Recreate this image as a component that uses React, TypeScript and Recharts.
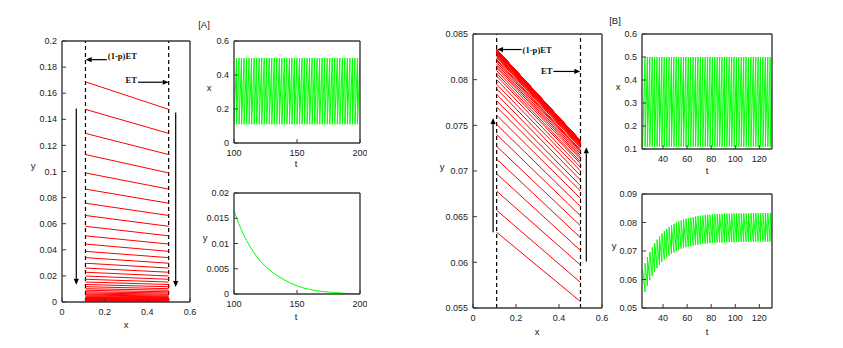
import React from "react";
import { LineChart, Line, XAxis, YAxis, ReferenceLine } from "recharts";

// cycle boundaries (time) and ramp bounds of x
const aCycleTimes = [
  100, 102, 104, 106, 108, 110, 112, 114, 116, 118, 120, 122, 124, 126, 128, 130, 132, 134, 136, 138,
  140, 142, 144, 146, 148, 150, 152, 154, 156, 158, 160, 162, 164, 166, 168, 170, 172, 174, 176, 178,
  180, 182, 184, 186, 188, 190, 192, 194, 196, 198, 200,
];
const bCycleTimes = [
  23, 25, 27, 29, 31, 33, 35, 37, 39, 41, 43, 45, 47, 49, 51, 53, 55, 57, 59, 61, 63, 65, 67, 69, 71,
  73, 75, 77, 79, 81, 83, 85, 87, 89, 91, 93, 95, 97, 99, 101, 103, 105, 107, 109, 111, 113, 115, 117,
  119, 121, 123, 125, 127, 129, 131,
];
const xRamp = [0.11, 0.5];

// [A] y level at each reset (segment i runs from level i to level i+1)
const aLevels = [
  0.1687, 0.1476, 0.1292, 0.113, 0.0989, 0.0865, 0.0757, 0.0663, 0.058, 0.0507, 0.0444, 0.0388,
  0.034, 0.0297, 0.026, 0.0228, 0.0199, 0.0174, 0.0153, 0.0134, 0.0117, 0.0102, 0.009, 0.0078,
  0.0069, 0.006, 0.0053, 0.0046, 0.004, 0.0035, 0.0031, 0.0027, 0.0024, 0.0021, 0.0018, 0.0016,
  0.0014, 0.0012, 0.0011, 0.0009, 0.0008, 0.0007, 0.0006, 0.0005, 0.0004, 0.0003, 0.0002, 0.0001, 0,
];
const aYTimes = [100, 105, 110, 115, 120, 130, 140, 150, 160, 170, 180, 190, 200];
const aYValues = [0.0165, 0.0132, 0.0106, 0.0085, 0.0068, 0.0044, 0.0028, 0.0016, 0.0009, 0.0005, 0.0003, 0.0001, 0];

// [B] y at start (x = 0.11) and end (x = 0.5) of each cycle
const bStart = [
  0.0633, 0.0657, 0.0678, 0.0697, 0.0713, 0.0727, 0.074, 0.0751, 0.0761, 0.077, 0.0777, 0.0784,
  0.079, 0.0795, 0.08, 0.0804, 0.0807, 0.081, 0.0813, 0.0815, 0.0817, 0.0819, 0.0821, 0.0822,
  0.0824, 0.0825, 0.0826, 0.0827, 0.0827, 0.0828, 0.0829, 0.0829, 0.083, 0.083, 0.0831, 0.0831,
  0.0831, 0.0831, 0.0832, 0.0832, 0.0832, 0.0832, 0.0832, 0.0832, 0.0833, 0.0833, 0.0833, 0.0833,
  0.0833, 0.0833, 0.0833, 0.0833, 0.0833, 0.0833,
];
const bEnd = [
  0.0557, 0.0578, 0.0597, 0.0613, 0.0627, 0.064, 0.0651, 0.0661, 0.067, 0.0678, 0.0684, 0.069,
  0.0695, 0.07, 0.0704, 0.0708, 0.071, 0.0713, 0.0715, 0.0717, 0.0719, 0.0721, 0.0722, 0.0723,
  0.0725, 0.0726, 0.0727, 0.0728, 0.0728, 0.0729, 0.073, 0.073, 0.073, 0.073, 0.0731, 0.0731,
  0.0731, 0.0731, 0.0732, 0.0732, 0.0732, 0.0732, 0.0732, 0.0732, 0.0733, 0.0733, 0.0733, 0.0733,
  0.0733, 0.0733, 0.0733, 0.0733, 0.0733, 0.0733,
];

// ticks
const phaseXTicks = [0, 0.2, 0.4, 0.6];
const aPhaseYTicks = [0, 0.02, 0.04, 0.06, 0.08, 0.1, 0.12, 0.14, 0.16, 0.18, 0.2];
const aTimeTicks = [100, 150, 200];
const aXTicks = [0, 0.2, 0.4, 0.6];
const aYTicks = [0, 0.005, 0.01, 0.015, 0.02];
const bPhaseYTicks = [0.055, 0.06, 0.065, 0.07, 0.075, 0.08, 0.085];
const bTimeTicks = [40, 60, 80, 100, 120];
const bXTicks = [0.1, 0.2, 0.3, 0.4, 0.5, 0.6];
const bYTicks = [0.05, 0.06, 0.07, 0.08, 0.09];

type Pt = { px: number; py: number | null };

function phaseTable(starts: number[], ends: number[]): Pt[] {
  const out: Pt[] = [];
  const n = Math.min(starts.length, ends.length);
  for (let i = 0; i < n; i++) {
    out.push({ px: xRamp[0], py: starts[i] }, { px: xRamp[1], py: ends[i] }, { px: xRamp[1], py: null });
  }
  return out;
}

function sawTable(times: number[]): Pt[] {
  const out: Pt[] = [];
  for (let k = 0; k < times.length - 1; k++) {
    out.push({ px: times[k], py: xRamp[0] }, { px: times[k + 1], py: xRamp[1] });
  }
  return out;
}

function cycleTable(times: number[], starts: number[], ends: number[]): Pt[] {
  const out: Pt[] = [];
  for (let k = 0; k < times.length - 1 && k < starts.length; k++) {
    out.push({ px: times[k], py: starts[k] }, { px: times[k + 1], py: ends[k] });
  }
  return out;
}

const aPhaseData = phaseTable(aLevels.slice(0, -1), aLevels.slice(1));
const bPhaseData = phaseTable(bStart, bEnd);
const aXData = sawTable(aCycleTimes);
const bXData = sawTable(bCycleTimes);
const aYData: Pt[] = aYTimes.map((t, i) => ({ px: t, py: aYValues[i] }));
const bYData = cycleTable(bCycleTimes, bStart, bEnd);

const YW = 40;
const XH = 22;
const PAD = 6;
const FRAME = "#3a3a3a";
const tickStyle = { fontSize: 9, fill: "#222", fontFamily: "Liberation Sans, Arial, sans-serif" };

type Rect = { l: number; t: number; r: number; b: number };

function Panel(props: {
  rect: Rect;
  data: Pt[];
  xDomain: number[];
  yDomain: number[];
  xTicks: number[];
  yTicks: number[];
  color: string;
  curve?: "linear" | "monotone";
  children?: React.ReactNode;
}) {
  const { rect, data, xDomain, yDomain, xTicks, yTicks, color, curve, children } = props;
  const w = rect.r - rect.l;
  const h = rect.b - rect.t;
  return (
    <div style={{ position: "absolute", left: rect.l - YW, top: rect.t - PAD - 1 }}>
      <LineChart
        width={w + YW + PAD + 1}
        height={h + PAD + 1 + XH}
        data={data}
        margin={{ top: PAD, right: PAD, bottom: 0, left: 0 }}
      >
        <XAxis
          dataKey="px"
          type="number"
          domain={xDomain}
          ticks={xTicks}
          interval={0}
          allowDataOverflow
          height={XH}
          tickSize={-4}
          tickMargin={11}
          axisLine={{ stroke: FRAME, strokeWidth: 1.4 }}
          tickLine={{ stroke: FRAME }}
          tick={tickStyle}
          tickFormatter={(v) => String(v)}
        />
        <XAxis
          xAxisId="top"
          orientation="top"
          type="number"
          domain={xDomain}
          ticks={xTicks}
          interval={0}
          allowDataOverflow
          height={1}
          tickSize={-4}
          tick={false}
          axisLine={{ stroke: FRAME, strokeWidth: 1.4 }}
          tickLine={{ stroke: FRAME }}
        />
        <YAxis
          type="number"
          domain={yDomain}
          ticks={yTicks}
          interval={0}
          allowDataOverflow
          width={YW}
          tickSize={-4}
          tickMargin={9}
          axisLine={{ stroke: FRAME, strokeWidth: 1.4 }}
          tickLine={{ stroke: FRAME }}
          tick={tickStyle}
          tickFormatter={(v) => String(v)}
        />
        <YAxis
          yAxisId="right"
          orientation="right"
          type="number"
          domain={yDomain}
          ticks={yTicks}
          interval={0}
          allowDataOverflow
          width={1}
          tickSize={-4}
          tick={false}
          axisLine={{ stroke: FRAME, strokeWidth: 1.4 }}
          tickLine={{ stroke: FRAME }}
        />
        {children}
        <Line
          dataKey="py"
          type={curve ?? "linear"}
          stroke={color}
          strokeWidth={1}
          dot={false}
          activeDot={false}
          isAnimationActive={false}
        />
      </LineChart>
    </div>
  );
}

function arrow(label?: string, anchor: "start" | "end" = "start", dy = 0) {
  return (p: any) => {
    const { x1, y1, x2, y2 } = p;
    const dx = x2 - x1;
    const dyv = y2 - y1;
    const len = Math.hypot(dx, dyv) || 1;
    const ux = dx / len;
    const uy = dyv / len;
    const hl = 6;
    const hw = 2.6;
    const bx = x2 - ux * hl;
    const by = y2 - uy * hl;
    const pts = `${x2},${y2} ${bx - uy * hw},${by + ux * hw} ${bx + uy * hw},${by - ux * hw}`;
    return (
      <g>
        <line x1={x1} y1={y1} x2={bx} y2={by} stroke="#000" strokeWidth={1.2} />
        <polygon points={pts} fill="#000" />
        {label && (
          <text
            x={anchor === "start" ? x1 + 1 : x1 - 1}
            y={y1 + dy}
            dy="0.35em"
            textAnchor={anchor}
            fontFamily="Liberation Serif, Times New Roman, serif"
            fontWeight="bold"
            fontSize={8.6}
            fill="#111"
          >
            {label}
          </text>
        )}
      </g>
    );
  };
}

function Txt({ x, y, children, size = 9.5 }: { x: number; y: number; children: React.ReactNode; size?: number }) {
  return (
    <span
      style={{
        position: "absolute",
        left: x,
        top: y,
        transform: "translate(-50%, -50%)",
        fontFamily: "Liberation Sans, Arial, sans-serif",
        fontSize: size,
        color: "#222",
        lineHeight: 1,
        whiteSpace: "nowrap",
      }}
    >
      {children}
    </span>
  );
}

const dash = { stroke: "#000", strokeWidth: 1.2, strokeDasharray: "4 3" };

export default function App() {
  return (
    <div style={{ position: "absolute", left: 0, top: 0, width: 843, height: 348, background: "#fff" }}>
      {/* [A] phase plane */}
      <Panel
        rect={{ l: 62, t: 41, r: 190, b: 302 }}
        data={aPhaseData}
        xDomain={[0, 0.6]}
        yDomain={[0, 0.2]}
        xTicks={phaseXTicks}
        yTicks={aPhaseYTicks}
        color="#ff0000"
      >
        <ReferenceLine x={xRamp[0]} {...dash} />
        <ReferenceLine x={xRamp[1]} {...dash} />
        <ReferenceLine segment={[{ x: 0.21, y: 0.1857 }, { x: 0.111, y: 0.1857 }]} shape={arrow("(1-p)ET", "start", -4)} />
        <ReferenceLine segment={[{ x: 0.356, y: 0.1684 }, { x: 0.5, y: 0.1684 }]} shape={arrow("ET", "end", -2)} />
        <ReferenceLine segment={[{ x: 0.067, y: 0.1483 }, { x: 0.067, y: 0.0133 }]} shape={arrow()} />
        <ReferenceLine segment={[{ x: 0.533, y: 0.1452 }, { x: 0.533, y: 0.0115 }]} shape={arrow()} />
      </Panel>
      <Txt x={33} y={166}>y</Txt>
      <Txt x={126} y={325}>x</Txt>

      {/* [A] x(t) */}
      <Panel
        rect={{ l: 234, t: 41, r: 360, b: 143 }}
        data={aXData}
        xDomain={[100, 200]}
        yDomain={[0, 0.6]}
        xTicks={aTimeTicks}
        yTicks={aXTicks}
        color="#00ff00"
      />
      <Txt x={204} y={25}>[A]</Txt>
      <Txt x={209} y={88}>x</Txt>
      <Txt x={296} y={164}>t</Txt>

      {/* [A] y(t) */}
      <Panel
        rect={{ l: 234, t: 193, r: 360, b: 294 }}
        data={aYData}
        xDomain={[100, 200]}
        yDomain={[0, 0.02]}
        xTicks={aTimeTicks}
        yTicks={aYTicks}
        color="#00ff00"
        curve="monotone"
      />
      <Txt x={205} y={238}>y</Txt>
      <Txt x={296} y={317}>t</Txt>

      {/* [B] phase plane */}
      <Panel
        rect={{ l: 473, t: 34, r: 602, b: 308 }}
        data={bPhaseData}
        xDomain={[0, 0.6]}
        yDomain={[0.055, 0.085]}
        xTicks={phaseXTicks}
        yTicks={bPhaseYTicks}
        color="#ff0000"
      >
        <ReferenceLine x={xRamp[0]} {...dash} />
        <ReferenceLine x={xRamp[1]} {...dash} />
        <ReferenceLine segment={[{ x: 0.226, y: 0.0833 }, { x: 0.112, y: 0.0833 }]} shape={arrow("(1-p)ET", "start", 0)} />
        <ReferenceLine segment={[{ x: 0.374, y: 0.0809 }, { x: 0.499, y: 0.0809 }]} shape={arrow("ET", "end", 0)} />
        <ReferenceLine segment={[{ x: 0.0935, y: 0.0633 }, { x: 0.0935, y: 0.0758 }]} shape={arrow()} />
        <ReferenceLine segment={[{ x: 0.527, y: 0.0601 }, { x: 0.527, y: 0.0726 }]} shape={arrow()} />
      </Panel>
      <Txt x={442} y={167}>y</Txt>
      <Txt x={537} y={332}>x</Txt>

      {/* [B] x(t) */}
      <Panel
        rect={{ l: 642, t: 34, r: 772, b: 149 }}
        data={bXData}
        xDomain={[22.5, 130.5]}
        yDomain={[0.1, 0.6]}
        xTicks={bTimeTicks}
        yTicks={bXTicks}
        color="#00ff00"
      />
      <Txt x={615} y={21}>[B]</Txt>
      <Txt x={618} y={87}>x</Txt>
      <Txt x={707} y={171}>t</Txt>

      {/* [B] y(t) */}
      <Panel
        rect={{ l: 642, t: 194, r: 772, b: 308 }}
        data={bYData}
        xDomain={[22.5, 130.5]}
        yDomain={[0.05, 0.09]}
        xTicks={bTimeTicks}
        yTicks={bYTicks}
        color="#00ff00"
      />
      <Txt x={614} y={246}>y</Txt>
      <Txt x={707} y={332}>t</Txt>
    </div>
  );
}
